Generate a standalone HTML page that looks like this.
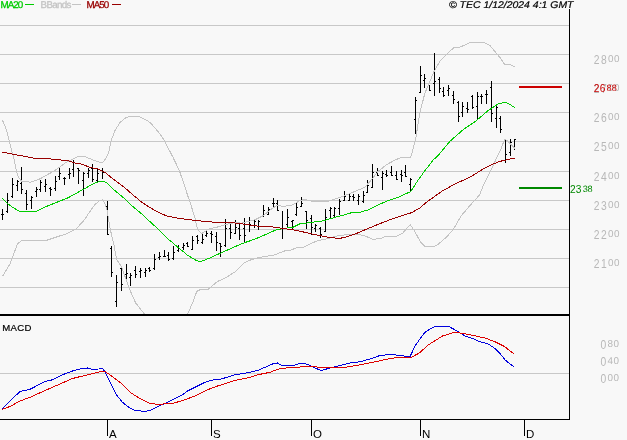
<!DOCTYPE html>
<html><head><meta charset="utf-8"><title>Chart</title>
<style>
html,body{margin:0;padding:0;background:#f8f8f8;}
body{width:627px;height:440px;overflow:hidden;position:relative;font-family:"Liberation Sans",sans-serif;}
svg{position:absolute;left:0;top:0;display:block}
text{font-family:"Liberation Sans",sans-serif}
</style></head><body>
<svg width="627" height="440" viewBox="0 0 627 440">
<rect x="0" y="0" width="627" height="440" fill="#f8f8f8"/>

<g shape-rendering="crispEdges" fill="#c8c8c8">
<rect x="0" y="25" width="569" height="1"/>
<rect x="0" y="54" width="569" height="1"/>
<rect x="0" y="83" width="569" height="1"/>
<rect x="0" y="112" width="569" height="1"/>
<rect x="0" y="141" width="569" height="1"/>
<rect x="0" y="171" width="569" height="1"/>
<rect x="0" y="200" width="569" height="1"/>
<rect x="0" y="229" width="569" height="1"/>
<rect x="0" y="258" width="569" height="1"/>
<rect x="0" y="287" width="569" height="1"/>
<rect x="0" y="373" width="569" height="1"/>
</g>
<g shape-rendering="crispEdges" fill="#000">
<rect x="2" y="209" width="1" height="11"/>
<rect x="1" y="214" width="1" height="1"/>
<rect x="3" y="214" width="1" height="1"/>
<rect x="7" y="193" width="1" height="20"/>
<rect x="6" y="211" width="1" height="1"/>
<rect x="8" y="200" width="1" height="1"/>
<rect x="12" y="178" width="1" height="20"/>
<rect x="11" y="196" width="1" height="1"/>
<rect x="13" y="184" width="1" height="1"/>
<rect x="17" y="180" width="1" height="11"/>
<rect x="16" y="185" width="1" height="1"/>
<rect x="18" y="181" width="1" height="1"/>
<rect x="21" y="167" width="1" height="27"/>
<rect x="20" y="183" width="1" height="1"/>
<rect x="22" y="189" width="1" height="1"/>
<rect x="26" y="190" width="1" height="20"/>
<rect x="25" y="193" width="1" height="1"/>
<rect x="27" y="204" width="1" height="1"/>
<rect x="31" y="196" width="1" height="13"/>
<rect x="30" y="200" width="1" height="1"/>
<rect x="32" y="197" width="1" height="1"/>
<rect x="36" y="187" width="1" height="10"/>
<rect x="35" y="191" width="1" height="1"/>
<rect x="37" y="189" width="1" height="1"/>
<rect x="40" y="180" width="1" height="12"/>
<rect x="39" y="189" width="1" height="1"/>
<rect x="41" y="182" width="1" height="1"/>
<rect x="45" y="179" width="1" height="13"/>
<rect x="44" y="186" width="1" height="1"/>
<rect x="46" y="184" width="1" height="1"/>
<rect x="50" y="187" width="1" height="9"/>
<rect x="49" y="188" width="1" height="1"/>
<rect x="51" y="189" width="1" height="1"/>
<rect x="55" y="176" width="1" height="15"/>
<rect x="54" y="188" width="1" height="1"/>
<rect x="56" y="181" width="1" height="1"/>
<rect x="59" y="167" width="1" height="13"/>
<rect x="58" y="176" width="1" height="1"/>
<rect x="60" y="173" width="1" height="1"/>
<rect x="64" y="177" width="1" height="8"/>
<rect x="63" y="178" width="1" height="1"/>
<rect x="65" y="178" width="1" height="1"/>
<rect x="69" y="168" width="1" height="11"/>
<rect x="68" y="174" width="1" height="1"/>
<rect x="70" y="173" width="1" height="1"/>
<rect x="73" y="160" width="1" height="17"/>
<rect x="72" y="169" width="1" height="1"/>
<rect x="74" y="162" width="1" height="1"/>
<rect x="78" y="168" width="1" height="16"/>
<rect x="77" y="168" width="1" height="1"/>
<rect x="79" y="170" width="1" height="1"/>
<rect x="83" y="172" width="1" height="24"/>
<rect x="82" y="180" width="1" height="1"/>
<rect x="84" y="173" width="1" height="1"/>
<rect x="88" y="168" width="1" height="10"/>
<rect x="87" y="173" width="1" height="1"/>
<rect x="89" y="170" width="1" height="1"/>
<rect x="92" y="164" width="1" height="18"/>
<rect x="91" y="168" width="1" height="1"/>
<rect x="93" y="179" width="1" height="1"/>
<rect x="97" y="169" width="1" height="13"/>
<rect x="96" y="180" width="1" height="1"/>
<rect x="98" y="173" width="1" height="1"/>
<rect x="102" y="168" width="1" height="11"/>
<rect x="101" y="170" width="1" height="1"/>
<rect x="103" y="172" width="1" height="1"/>
<rect x="107" y="201" width="1" height="34"/>
<rect x="106" y="206" width="1" height="1"/>
<rect x="108" y="234" width="1" height="1"/>
<rect x="111" y="246" width="1" height="31"/>
<rect x="110" y="248" width="1" height="1"/>
<rect x="112" y="272" width="1" height="1"/>
<rect x="116" y="275" width="1" height="32"/>
<rect x="115" y="301" width="1" height="1"/>
<rect x="117" y="282" width="1" height="1"/>
<rect x="121" y="266" width="1" height="25"/>
<rect x="120" y="268" width="1" height="1"/>
<rect x="122" y="284" width="1" height="1"/>
<rect x="126" y="264" width="1" height="15"/>
<rect x="125" y="274" width="1" height="1"/>
<rect x="127" y="273" width="1" height="1"/>
<rect x="130" y="273" width="1" height="13"/>
<rect x="129" y="277" width="1" height="1"/>
<rect x="131" y="275" width="1" height="1"/>
<rect x="135" y="266" width="1" height="12"/>
<rect x="134" y="270" width="1" height="1"/>
<rect x="136" y="274" width="1" height="1"/>
<rect x="140" y="268" width="1" height="10"/>
<rect x="139" y="271" width="1" height="1"/>
<rect x="141" y="270" width="1" height="1"/>
<rect x="145" y="268" width="1" height="9"/>
<rect x="144" y="272" width="1" height="1"/>
<rect x="146" y="270" width="1" height="1"/>
<rect x="149" y="267" width="1" height="5"/>
<rect x="148" y="268" width="1" height="1"/>
<rect x="150" y="270" width="1" height="1"/>
<rect x="154" y="254" width="1" height="16"/>
<rect x="153" y="268" width="1" height="1"/>
<rect x="155" y="259" width="1" height="1"/>
<rect x="159" y="252" width="1" height="8"/>
<rect x="158" y="257" width="1" height="1"/>
<rect x="160" y="256" width="1" height="1"/>
<rect x="164" y="250" width="1" height="7"/>
<rect x="163" y="256" width="1" height="1"/>
<rect x="165" y="256" width="1" height="1"/>
<rect x="168" y="252" width="1" height="9"/>
<rect x="167" y="255" width="1" height="1"/>
<rect x="169" y="259" width="1" height="1"/>
<rect x="173" y="246" width="1" height="14"/>
<rect x="172" y="258" width="1" height="1"/>
<rect x="174" y="252" width="1" height="1"/>
<rect x="178" y="245" width="1" height="7"/>
<rect x="177" y="250" width="1" height="1"/>
<rect x="179" y="248" width="1" height="1"/>
<rect x="183" y="243" width="1" height="7"/>
<rect x="182" y="247" width="1" height="1"/>
<rect x="184" y="245" width="1" height="1"/>
<rect x="187" y="242" width="1" height="5"/>
<rect x="186" y="243" width="1" height="1"/>
<rect x="188" y="246" width="1" height="1"/>
<rect x="192" y="236" width="1" height="14"/>
<rect x="191" y="249" width="1" height="1"/>
<rect x="193" y="240" width="1" height="1"/>
<rect x="197" y="235" width="1" height="9"/>
<rect x="196" y="236" width="1" height="1"/>
<rect x="198" y="240" width="1" height="1"/>
<rect x="202" y="234" width="1" height="10"/>
<rect x="201" y="242" width="1" height="1"/>
<rect x="203" y="239" width="1" height="1"/>
<rect x="206" y="230" width="1" height="7"/>
<rect x="205" y="235" width="1" height="1"/>
<rect x="207" y="233" width="1" height="1"/>
<rect x="211" y="231" width="1" height="12"/>
<rect x="210" y="233" width="1" height="1"/>
<rect x="212" y="234" width="1" height="1"/>
<rect x="216" y="232" width="1" height="19"/>
<rect x="215" y="236" width="1" height="1"/>
<rect x="217" y="242" width="1" height="1"/>
<rect x="220" y="243" width="1" height="14"/>
<rect x="219" y="243" width="1" height="1"/>
<rect x="221" y="246" width="1" height="1"/>
<rect x="225" y="219" width="1" height="28"/>
<rect x="224" y="245" width="1" height="1"/>
<rect x="226" y="228" width="1" height="1"/>
<rect x="230" y="224" width="1" height="15"/>
<rect x="229" y="228" width="1" height="1"/>
<rect x="231" y="232" width="1" height="1"/>
<rect x="235" y="220" width="1" height="14"/>
<rect x="234" y="233" width="1" height="1"/>
<rect x="236" y="227" width="1" height="1"/>
<rect x="239" y="223" width="1" height="17"/>
<rect x="238" y="228" width="1" height="1"/>
<rect x="240" y="235" width="1" height="1"/>
<rect x="244" y="218" width="1" height="25"/>
<rect x="243" y="228" width="1" height="1"/>
<rect x="245" y="235" width="1" height="1"/>
<rect x="249" y="217" width="1" height="15"/>
<rect x="248" y="224" width="1" height="1"/>
<rect x="250" y="224" width="1" height="1"/>
<rect x="254" y="219" width="1" height="9"/>
<rect x="253" y="225" width="1" height="1"/>
<rect x="255" y="221" width="1" height="1"/>
<rect x="258" y="220" width="1" height="10"/>
<rect x="257" y="226" width="1" height="1"/>
<rect x="259" y="221" width="1" height="1"/>
<rect x="263" y="205" width="1" height="12"/>
<rect x="262" y="216" width="1" height="1"/>
<rect x="264" y="210" width="1" height="1"/>
<rect x="268" y="207" width="1" height="8"/>
<rect x="267" y="214" width="1" height="1"/>
<rect x="269" y="209" width="1" height="1"/>
<rect x="273" y="198" width="1" height="9"/>
<rect x="272" y="203" width="1" height="1"/>
<rect x="274" y="203" width="1" height="1"/>
<rect x="277" y="200" width="1" height="11"/>
<rect x="276" y="203" width="1" height="1"/>
<rect x="278" y="210" width="1" height="1"/>
<rect x="282" y="211" width="1" height="28"/>
<rect x="281" y="228" width="1" height="1"/>
<rect x="283" y="228" width="1" height="1"/>
<rect x="287" y="209" width="1" height="18"/>
<rect x="286" y="224" width="1" height="1"/>
<rect x="288" y="217" width="1" height="1"/>
<rect x="292" y="220" width="1" height="9"/>
<rect x="291" y="221" width="1" height="1"/>
<rect x="293" y="220" width="1" height="1"/>
<rect x="296" y="203" width="1" height="13"/>
<rect x="295" y="214" width="1" height="1"/>
<rect x="297" y="207" width="1" height="1"/>
<rect x="301" y="197" width="1" height="10"/>
<rect x="300" y="206" width="1" height="1"/>
<rect x="302" y="203" width="1" height="1"/>
<rect x="306" y="211" width="1" height="18"/>
<rect x="305" y="211" width="1" height="1"/>
<rect x="307" y="220" width="1" height="1"/>
<rect x="311" y="215" width="1" height="20"/>
<rect x="310" y="218" width="1" height="1"/>
<rect x="312" y="227" width="1" height="1"/>
<rect x="315" y="224" width="1" height="8"/>
<rect x="314" y="228" width="1" height="1"/>
<rect x="316" y="225" width="1" height="1"/>
<rect x="320" y="227" width="1" height="11"/>
<rect x="319" y="228" width="1" height="1"/>
<rect x="321" y="234" width="1" height="1"/>
<rect x="325" y="209" width="1" height="23"/>
<rect x="324" y="231" width="1" height="1"/>
<rect x="326" y="217" width="1" height="1"/>
<rect x="330" y="207" width="1" height="11"/>
<rect x="329" y="210" width="1" height="1"/>
<rect x="331" y="208" width="1" height="1"/>
<rect x="334" y="207" width="1" height="10"/>
<rect x="333" y="215" width="1" height="1"/>
<rect x="335" y="208" width="1" height="1"/>
<rect x="339" y="199" width="1" height="16"/>
<rect x="338" y="208" width="1" height="1"/>
<rect x="340" y="201" width="1" height="1"/>
<rect x="344" y="191" width="1" height="10"/>
<rect x="343" y="200" width="1" height="1"/>
<rect x="345" y="196" width="1" height="1"/>
<rect x="349" y="194" width="1" height="7"/>
<rect x="348" y="200" width="1" height="1"/>
<rect x="350" y="196" width="1" height="1"/>
<rect x="353" y="194" width="1" height="7"/>
<rect x="352" y="196" width="1" height="1"/>
<rect x="354" y="197" width="1" height="1"/>
<rect x="358" y="194" width="1" height="11"/>
<rect x="357" y="200" width="1" height="1"/>
<rect x="359" y="196" width="1" height="1"/>
<rect x="363" y="191" width="1" height="12"/>
<rect x="362" y="201" width="1" height="1"/>
<rect x="364" y="195" width="1" height="1"/>
<rect x="367" y="180" width="1" height="13"/>
<rect x="366" y="192" width="1" height="1"/>
<rect x="368" y="185" width="1" height="1"/>
<rect x="372" y="164" width="1" height="24"/>
<rect x="371" y="187" width="1" height="1"/>
<rect x="373" y="172" width="1" height="1"/>
<rect x="377" y="168" width="1" height="8"/>
<rect x="376" y="172" width="1" height="1"/>
<rect x="378" y="175" width="1" height="1"/>
<rect x="382" y="171" width="1" height="19"/>
<rect x="381" y="177" width="1" height="1"/>
<rect x="383" y="173" width="1" height="1"/>
<rect x="386" y="170" width="1" height="7"/>
<rect x="385" y="174" width="1" height="1"/>
<rect x="387" y="175" width="1" height="1"/>
<rect x="391" y="166" width="1" height="10"/>
<rect x="390" y="172" width="1" height="1"/>
<rect x="392" y="175" width="1" height="1"/>
<rect x="396" y="171" width="1" height="9"/>
<rect x="395" y="175" width="1" height="1"/>
<rect x="397" y="179" width="1" height="1"/>
<rect x="401" y="170" width="1" height="12"/>
<rect x="400" y="174" width="1" height="1"/>
<rect x="402" y="175" width="1" height="1"/>
<rect x="405" y="165" width="1" height="12"/>
<rect x="404" y="172" width="1" height="1"/>
<rect x="406" y="176" width="1" height="1"/>
<rect x="410" y="178" width="1" height="13"/>
<rect x="409" y="184" width="1" height="1"/>
<rect x="411" y="179" width="1" height="1"/>
<rect x="415" y="97" width="1" height="37"/>
<rect x="414" y="119" width="1" height="1"/>
<rect x="416" y="100" width="1" height="1"/>
<rect x="420" y="66" width="1" height="27"/>
<rect x="419" y="92" width="1" height="1"/>
<rect x="421" y="75" width="1" height="1"/>
<rect x="424" y="74" width="1" height="14"/>
<rect x="423" y="80" width="1" height="1"/>
<rect x="425" y="78" width="1" height="1"/>
<rect x="429" y="85" width="1" height="6"/>
<rect x="428" y="85" width="1" height="1"/>
<rect x="430" y="90" width="1" height="1"/>
<rect x="434" y="53" width="1" height="43"/>
<rect x="433" y="83" width="1" height="1"/>
<rect x="435" y="81" width="1" height="1"/>
<rect x="439" y="77" width="1" height="16"/>
<rect x="438" y="79" width="1" height="1"/>
<rect x="440" y="88" width="1" height="1"/>
<rect x="443" y="87" width="1" height="10"/>
<rect x="442" y="91" width="1" height="1"/>
<rect x="444" y="95" width="1" height="1"/>
<rect x="448" y="85" width="1" height="11"/>
<rect x="447" y="90" width="1" height="1"/>
<rect x="449" y="88" width="1" height="1"/>
<rect x="453" y="91" width="1" height="13"/>
<rect x="452" y="95" width="1" height="1"/>
<rect x="454" y="99" width="1" height="1"/>
<rect x="458" y="101" width="1" height="21"/>
<rect x="457" y="102" width="1" height="1"/>
<rect x="459" y="116" width="1" height="1"/>
<rect x="462" y="102" width="1" height="15"/>
<rect x="461" y="112" width="1" height="1"/>
<rect x="463" y="106" width="1" height="1"/>
<rect x="467" y="102" width="1" height="11"/>
<rect x="466" y="108" width="1" height="1"/>
<rect x="468" y="109" width="1" height="1"/>
<rect x="472" y="95" width="1" height="14"/>
<rect x="471" y="96" width="1" height="1"/>
<rect x="473" y="107" width="1" height="1"/>
<rect x="477" y="92" width="1" height="28"/>
<rect x="476" y="106" width="1" height="1"/>
<rect x="478" y="96" width="1" height="1"/>
<rect x="481" y="94" width="1" height="10"/>
<rect x="480" y="96" width="1" height="1"/>
<rect x="482" y="96" width="1" height="1"/>
<rect x="486" y="90" width="1" height="14"/>
<rect x="485" y="94" width="1" height="1"/>
<rect x="487" y="94" width="1" height="1"/>
<rect x="491" y="81" width="1" height="41"/>
<rect x="490" y="87" width="1" height="1"/>
<rect x="492" y="113" width="1" height="1"/>
<rect x="496" y="106" width="1" height="22"/>
<rect x="495" y="118" width="1" height="1"/>
<rect x="497" y="107" width="1" height="1"/>
<rect x="500" y="116" width="1" height="17"/>
<rect x="499" y="118" width="1" height="1"/>
<rect x="501" y="129" width="1" height="1"/>
<rect x="505" y="139" width="1" height="24"/>
<rect x="506" y="154" width="1" height="1"/>
<rect x="510" y="139" width="1" height="17"/>
<rect x="509" y="152" width="1" height="1"/>
<rect x="511" y="142" width="1" height="1"/>
<rect x="514" y="139" width="1" height="11"/>
<rect x="515" y="139" width="1" height="1"/>
</g>
<clipPath id="c1"><rect x="0" y="0" width="569" height="314"/></clipPath>
<g clip-path="url(#c1)">
<polyline points="2.5,120.2 6.6,130.0 12.4,153.2 13.8,158.0 16.0,168.9 18.2,176.9 19.6,178.6 21.8,181.3 30.7,182.2 39.8,178.9 54.7,170.6 66.3,162.3 78.0,156.5 84.6,156.5 92.9,159.9 100.0,162.4 103.3,162.0 106.0,158.0 108.8,152.0 111.2,140.5 115.0,130.5 120.0,122.5 125.0,118.2 130.0,116.3 135.0,116.0 140.0,117.0 145.0,119.3 150.0,122.5 156.0,129.0 162.5,137.5 168.0,147.8 172.5,156.3 176.0,163.5 180.0,172.5 184.0,184.0 187.5,195.0 190.4,203.0 192.9,211.6 194.9,217.5 197.4,228.8 199.5,231.5 201.8,233.5 205.5,231.2 209.2,228.8 218.0,226.9 225.5,224.4 235.5,222.5 241.5,223.2 254.7,219.9 263.0,215.7 271.3,209.1 277.9,204.9 282.9,206.6 292.9,204.9 299.5,200.8 304.0,199.4 309.5,200.5 313.0,201.5 328.0,201.5 330.5,200.5 333.2,199.6 343.1,196.4 354.7,191.5 364.7,187.3 371.3,179.9 377.9,171.6 386.2,164.9 394.5,160.3 400.0,158.0 410.8,157.2 415.8,138.1 419.9,112.6 424.9,93.1 434.2,71.1 440.6,60.2 447.0,53.9 454.0,47.5 459.8,47.2 471.2,42.1 482.7,42.1 486.6,43.7 490.0,45.6 492.9,49.1 499.9,57.5 504.9,64.9 509.9,64.6 514.8,66.6" fill="none" stroke="#c4c4c4" stroke-width="1" stroke-linejoin="round" shape-rendering="crispEdges" />
<polyline points="2.5,276.3 10.0,263.8 17.5,243.8 22.5,240.0 47.5,240.0 54.7,237.6 66.3,233.8 76.3,228.8 84.5,219.7 88.4,213.7 94.9,204.5 99.3,200.9 102.9,199.5 105.1,204.5 107.3,211.0 110.0,228.2 114.0,245.0 116.6,259.7 121.6,266.6 129.0,288.0 135.7,303.0 144.0,313.5 150.0,318.0 180.0,318.0 187.9,313.5 193.3,301.1 196.8,291.4 199.5,290.0 208.3,289.2 217.2,281.6 226.1,277.6 234.9,271.9 243.8,263.0 250.9,259.8 259.7,257.4 273.9,255.1 284.5,251.0 290.0,250.3 296.2,248.0 304.0,247.2 308.3,244.8 316.6,241.1 328.2,238.4 338.1,235.6 349.8,234.5 359.7,234.5 366.3,236.5 373.0,239.4 381.3,238.4 385.8,236.1 396.6,236.1 402.4,233.5 410.2,224.5 414.8,231.5 420.6,242.3 424.8,246.4 433.9,246.4 438.0,244.4 446.3,237.3 453.0,229.8 461.3,215.7 471.2,204.1 479.5,195.0 482.9,186.5 491.2,169.9 496.6,158.0 501.3,148.0 504.7,139.2 508.3,141.6 510.7,144.4 515.0,148.5" fill="none" stroke="#c4c4c4" stroke-width="1" stroke-linejoin="round" shape-rendering="crispEdges" />
<polyline points="2.0,198.2 7.5,203.5 13.3,207.8 19.6,211.4 36.2,211.4 43.1,207.8 54.7,203.1 68.0,197.8 83.0,189.5 92.9,184.0 97.0,182.2 100.5,181.5 103.5,181.4 106.5,182.7 109.5,185.5 112.4,188.5 119.6,194.4 124.9,198.9 133.2,206.9 141.5,213.8 148.1,219.9 158.0,229.0 168.0,238.9 177.9,247.2 187.9,255.5 196.0,260.3 199.0,261.3 201.7,261.3 208.8,258.4 220.2,253.3 234.3,246.9 244.5,242.7 254.7,239.2 264.9,234.8 276.0,229.9 282.9,228.6 292.9,227.3 299.5,224.0 304.0,223.3 309.1,222.8 316.6,221.6 322.7,220.9 328.4,219.2 338.6,216.4 345.5,214.5 352.5,212.4 360.6,212.2 368.3,209.8 377.9,205.0 387.9,200.7 397.8,197.4 400.0,196.4 410.8,191.5 416.6,182.3 424.9,170.7 433.2,160.0 438.1,155.5 449.8,141.4 463.0,129.8 476.3,120.7 487.9,110.8 494.5,106.3 498.2,103.9 504.9,102.2 509.9,104.4 514.8,107.7" fill="none" stroke="#00cc00" stroke-width="1" stroke-linejoin="round" shape-rendering="crispEdges" />
<polyline points="2.5,152.0 15.3,154.6 33.2,158.0 56.1,159.3 68.9,161.0 76.0,163.3 80.4,163.8 84.7,165.3 90.5,167.5 97.8,168.9 105.1,172.5 112.4,178.4 116.6,181.7 124.9,187.8 133.2,195.1 141.5,202.0 149.8,207.5 158.0,212.2 166.3,215.8 174.6,217.7 182.9,218.9 192.9,220.1 204.0,221.4 216.6,222.3 233.2,222.8 244.8,224.3 258.0,226.2 271.3,226.8 282.9,228.5 294.5,230.1 300.0,231.2 310.0,233.5 319.9,235.6 329.9,237.6 339.8,238.4 348.1,236.5 358.0,232.8 369.7,227.8 382.9,222.4 392.9,218.7 404.0,214.9 411.6,212.7 419.9,208.0 426.5,202.2 441.5,191.5 454.7,184.0 469.7,177.4 482.9,169.1 492.9,164.1 499.9,161.4 508.2,159.4 514.8,158.0" fill="none" stroke="#990000" stroke-width="1" stroke-linejoin="round" shape-rendering="crispEdges" />
</g>
<polyline points="2.0,409.0 10.0,401.0 20.0,391.5 30.0,389.3 45.0,381.5 52.5,379.8 62.5,374.8 72.5,371.0 80.0,369.0 87.5,368.0 92.5,369.3 98.8,369.0 102.0,368.0 105.0,371.5 110.0,382.3 116.3,394.8 122.5,402.3 128.8,407.3 135.0,410.3 145.0,411.5 152.5,409.5 157.5,406.5 167.5,402.3 182.5,394.8 187.5,391.0 205.0,382.3 215.0,379.3 221.3,379.0 235.0,374.8 250.0,372.3 257.5,370.5 265.0,367.3 272.5,364.0 277.5,363.0 281.3,365.3 292.5,366.0 301.3,363.0 307.5,364.3 315.0,368.0 321.3,370.5 330.0,368.0 340.0,365.5 350.0,363.0 360.0,361.8 370.0,359.0 380.0,355.5 391.3,354.3 400.0,355.5 410.0,356.8 415.0,346.0 420.0,338.9 425.0,332.3 430.0,329.0 435.0,326.5 448.8,326.5 455.0,329.8 465.0,336.0 472.5,338.5 480.0,341.8 487.5,343.5 495.0,348.5 500.0,353.5 505.0,359.8 510.0,364.0 514.5,367.3" fill="none" stroke="#0000dd" stroke-width="1" stroke-linejoin="round" shape-rendering="crispEdges" />
<polyline points="2.0,409.3 10.0,406.5 20.0,401.0 30.0,397.3 45.0,390.5 60.0,384.0 72.5,378.5 87.5,374.8 100.0,371.8 105.0,371.5 110.0,374.8 120.0,382.3 130.0,392.3 140.0,398.5 150.0,403.5 157.5,404.3 172.5,403.5 182.5,400.5 195.0,396.0 207.5,389.8 217.5,386.0 235.0,380.5 250.0,377.3 257.5,374.8 270.0,372.3 277.5,369.3 287.5,367.8 297.5,367.3 306.0,366.2 312.5,366.0 320.0,367.8 332.5,367.8 345.0,367.3 360.0,364.8 375.0,361.8 390.0,358.5 400.0,357.3 411.3,357.3 420.0,352.6 427.5,345.4 435.0,340.7 442.5,336.0 452.5,332.8 460.0,333.0 470.0,334.8 485.0,338.0 495.0,341.8 505.0,346.8 510.0,351.0 514.5,354.3" fill="none" stroke="#dd0000" stroke-width="1" stroke-linejoin="round" shape-rendering="crispEdges" />
<g shape-rendering="crispEdges" fill="#000">
<rect x="569" y="9" width="1" height="411"/>
<rect x="0" y="314" width="569" height="2"/>
<rect x="0" y="419" width="570" height="1"/>
<rect x="107" y="419" width="1" height="17"/>
<rect x="211" y="419" width="1" height="17"/>
<rect x="311" y="419" width="1" height="17"/>
<rect x="420" y="419" width="1" height="17"/>
<rect x="524" y="419" width="1" height="17"/>
</g>
<g shape-rendering="crispEdges">
<rect x="519" y="86" width="43" height="2" fill="#cc0000"/>
<rect x="519" y="187" width="43" height="2" fill="#008800"/>
</g>
<text x="109" y="437.5" font-size="11.5" fill="#000">A</text>
<text x="213" y="437.5" font-size="11.5" fill="#000">S</text>
<text x="313" y="437.5" font-size="11.5" fill="#000">O</text>
<text x="422" y="437.5" font-size="11.5" fill="#000">N</text>
<text x="526" y="437.5" font-size="11.5" fill="#000">D</text>
<g font-size="9.8" stroke-width="0.3" text-rendering="geometricPrecision">
<text x="0.5" y="8" fill="#00cc00" stroke="#00cc00" letter-spacing="-1">MA20</text>
<text x="40.4" y="8" fill="#c4c4c4" stroke="#c4c4c4">B</text>
<text x="46.4" y="8" fill="#c4c4c4" stroke="#c4c4c4" letter-spacing="-0.7">Bands</text>
<text x="86.5" y="8" fill="#990000" stroke="#990000" letter-spacing="-1">MA50</text>
</g>
<g shape-rendering="crispEdges">
<rect x="25" y="4" width="9" height="1" fill="#00cc00"/>
<rect x="72" y="4" width="9" height="1" fill="#c4c4c4"/>
<rect x="112" y="4" width="9" height="1" fill="#990000"/>
</g>
<text x="449" y="8" font-size="9.8" font-style="italic" fill="#000" stroke="#000" stroke-width="0.2" text-rendering="geometricPrecision" textLength="124.5" lengthAdjust="spacingAndGlyphs">© TEC 1/12/2024 4:1 GMT</text>
<text x="2.3" y="331" font-size="9.6" fill="#000" stroke="#000" stroke-width="0.2" letter-spacing="0.3">MACD</text>
<text transform="translate(593.8,64) scale(0.82,1)" font-size="12.6" fill="#b8b8b8" font-weight="normal" letter-spacing="1.65">28</text><text x="608.0" y="62" text-rendering="geometricPrecision" font-size="9.9" fill="#b8b8b8" font-weight="normal" letter-spacing="0.4">00</text>
<text transform="translate(593.8,93) scale(0.82,1)" font-size="12.6" fill="#b8b8b8" font-weight="normal" letter-spacing="1.65">27</text><text x="608.0" y="91" text-rendering="geometricPrecision" font-size="9.9" fill="#b8b8b8" font-weight="normal" letter-spacing="0.4">00</text>
<text transform="translate(593.8,122) scale(0.82,1)" font-size="12.6" fill="#b8b8b8" font-weight="normal" letter-spacing="1.65">26</text><text x="608.0" y="120" text-rendering="geometricPrecision" font-size="9.9" fill="#b8b8b8" font-weight="normal" letter-spacing="0.4">00</text>
<text transform="translate(593.8,151) scale(0.82,1)" font-size="12.6" fill="#b8b8b8" font-weight="normal" letter-spacing="1.65">25</text><text x="608.0" y="149" text-rendering="geometricPrecision" font-size="9.9" fill="#b8b8b8" font-weight="normal" letter-spacing="0.4">00</text>
<text transform="translate(593.8,181) scale(0.82,1)" font-size="12.6" fill="#b8b8b8" font-weight="normal" letter-spacing="1.65">24</text><text x="608.0" y="179" text-rendering="geometricPrecision" font-size="9.9" fill="#b8b8b8" font-weight="normal" letter-spacing="0.4">00</text>
<text transform="translate(593.8,210) scale(0.82,1)" font-size="12.6" fill="#b8b8b8" font-weight="normal" letter-spacing="1.65">23</text><text x="608.0" y="208" text-rendering="geometricPrecision" font-size="9.9" fill="#b8b8b8" font-weight="normal" letter-spacing="0.4">00</text>
<text transform="translate(593.8,239) scale(0.82,1)" font-size="12.6" fill="#b8b8b8" font-weight="normal" letter-spacing="1.65">22</text><text x="608.0" y="237" text-rendering="geometricPrecision" font-size="9.9" fill="#b8b8b8" font-weight="normal" letter-spacing="0.4">00</text>
<text transform="translate(593.8,268) scale(0.82,1)" font-size="12.6" fill="#b8b8b8" font-weight="normal" letter-spacing="1.65">21</text><text x="608.0" y="266" text-rendering="geometricPrecision" font-size="9.9" fill="#b8b8b8" font-weight="normal" letter-spacing="0.4">00</text>
<text transform="translate(593.7,92) scale(0.9,1)" font-size="11.3" fill="#cc0000" font-weight="normal" letter-spacing="0.35">26</text><text x="606.6" y="91" text-rendering="geometricPrecision" font-size="9.2" fill="#cc0000" font-weight="normal" letter-spacing="0.1">88</text>
<text transform="translate(569.9,193) scale(0.9,1)" font-size="11.3" fill="#008800" font-weight="normal" letter-spacing="0.35">23</text><text x="582.8" y="192" text-rendering="geometricPrecision" font-size="9.2" fill="#008800" font-weight="normal" letter-spacing="-0.3">38</text>
<text transform="translate(600.5,349) scale(0.82,1)" font-size="12.6" fill="#b8b8b8" font-weight="normal" letter-spacing="1.65">0</text><text x="607.6" y="347" text-rendering="geometricPrecision" font-size="9.9" fill="#b8b8b8" font-weight="normal" letter-spacing="0.4">80</text>
<text transform="translate(600.5,366) scale(0.82,1)" font-size="12.6" fill="#b8b8b8" font-weight="normal" letter-spacing="1.65">0</text><text x="607.6" y="364" text-rendering="geometricPrecision" font-size="9.9" fill="#b8b8b8" font-weight="normal" letter-spacing="0.4">40</text>
<text transform="translate(600.5,383) scale(0.82,1)" font-size="12.6" fill="#b8b8b8" font-weight="normal" letter-spacing="1.65">0</text><text x="607.6" y="381" text-rendering="geometricPrecision" font-size="9.9" fill="#b8b8b8" font-weight="normal" letter-spacing="0.4">00</text>
</svg></body></html>
